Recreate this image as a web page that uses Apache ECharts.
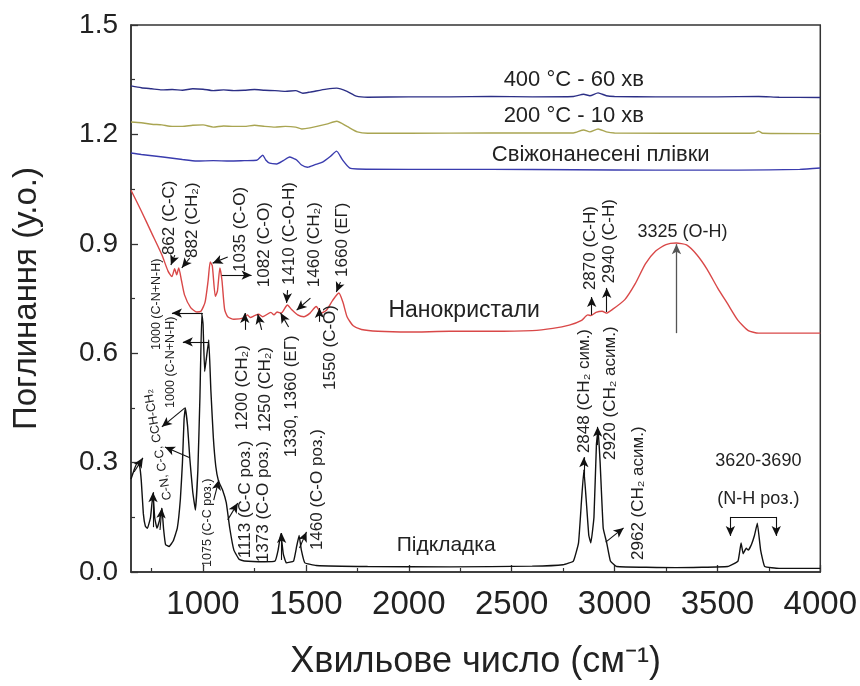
<!DOCTYPE html>
<html><head><meta charset="utf-8">
<script src="https://cdn.jsdelivr.net/npm/echarts@6/dist/echarts.min.js"></script>
<style>html,body{margin:0;padding:0;background:#fff}#c{width:860px;height:686px}</style>
</head><body><div id="c"></div>
<script>
// ---- data ----
const xTickValues = [1000, 1500, 2000, 2500, 3000, 3500, 4000];
const xMinorTickValues = [750, 1250, 1750, 2250, 2750, 3250, 3750];
const yTickLabels = ['0.0', '0.3', '0.6', '0.9', '1.2', '1.5'];

const film400 = [[650,1.333],[700,1.328],[750,1.325],[800,1.322],[850,1.323],[900,1.321],[950,1.325],[1000,1.324],[1050,1.320],[1100,1.322],[1150,1.320],[1200,1.321],[1250,1.323],[1300,1.321],[1350,1.320],[1400,1.318],[1450,1.320],[1485,1.313],[1520,1.316],[1600,1.324],[1650,1.327],[1700,1.318],[1745,1.305],[1800,1.302],[2000,1.303],[2200,1.303],[2400,1.304],[2600,1.303],[2800,1.304],[2850,1.310],[2880,1.306],[2920,1.314],[2960,1.306],[3000,1.304],[3200,1.303],[3500,1.303],[3700,1.304],[3800,1.302],[4000,1.301]];

const film200 = [[650,1.234],[700,1.232],[750,1.228],[800,1.226],[850,1.222],[900,1.222],[950,1.225],[1000,1.226],[1050,1.220],[1100,1.223],[1150,1.222],[1200,1.222],[1250,1.225],[1300,1.222],[1350,1.220],[1400,1.222],[1450,1.220],[1480,1.215],[1520,1.218],[1600,1.228],[1650,1.236],[1700,1.222],[1750,1.207],[1800,1.203],[2000,1.203],[2400,1.204],[2800,1.204],[2850,1.212],[2880,1.207],[2920,1.215],[2960,1.207],[3000,1.204],[3500,1.203],[3680,1.204],[3700,1.209],[3720,1.203],[4000,1.202]];

const filmFresh = [[650,1.149],[700,1.145],[805,1.138],[900,1.131],[970,1.127],[1050,1.128],[1130,1.127],[1200,1.128],[1261,1.129],[1290,1.143],[1305,1.130],[1324,1.121],[1358,1.119],[1390,1.128],[1421,1.138],[1440,1.134],[1455,1.130],[1479,1.116],[1508,1.110],[1545,1.117],[1581,1.124],[1620,1.140],[1649,1.154],[1678,1.130],[1712,1.108],[1750,1.105],[2000,1.104],[2400,1.104],[2800,1.103],[3200,1.102],[3600,1.102],[3900,1.104],[4000,1.108]];

const nanocrystals = [[650,1.047],[700,0.99],[750,0.93],[800,0.87],[830,0.825],[849,0.81],[862,0.832],[872,0.815],[882,0.834],[895,0.80],[910,0.76],[940,0.725],[970,0.713],[990,0.715],[1010,0.74],[1025,0.80],[1035,0.85],[1045,0.84],[1060,0.756],[1070,0.77],[1082,0.834],[1092,0.80],[1105,0.72],[1120,0.70],[1150,0.693],[1200,0.697],[1215,0.705],[1230,0.698],[1250,0.703],[1270,0.707],[1290,0.70],[1330,0.712],[1345,0.705],[1360,0.713],[1380,0.71],[1410,0.732],[1430,0.72],[1460,0.705],[1490,0.70],[1520,0.71],[1550,0.728],[1575,0.71],[1600,0.718],[1630,0.745],[1660,0.765],[1680,0.74],[1700,0.70],[1730,0.675],[1770,0.665],[1850,0.660],[2000,0.658],[2200,0.660],[2400,0.660],[2600,0.662],[2700,0.668],[2780,0.677],[2840,0.69],[2870,0.705],[2885,0.703],[2910,0.712],[2940,0.715],[2960,0.71],[2990,0.72],[3050,0.747],[3100,0.79],[3150,0.845],[3200,0.88],[3250,0.898],[3300,0.902],[3350,0.897],[3400,0.87],[3450,0.83],[3500,0.78],[3550,0.735],[3600,0.69],[3650,0.662],[3700,0.655],[3800,0.655],[4000,0.655]];

const substrate = [[650,0.255],[665,0.28],[680,0.30],[692,0.29],[700,0.25],[710,0.16],[720,0.125],[730,0.12],[745,0.15],[757,0.215],[765,0.15],[776,0.12],[788,0.14],[800,0.175],[808,0.12],[818,0.075],[835,0.07],[855,0.085],[875,0.12],[890,0.2],[900,0.3],[908,0.42],[914,0.45],[925,0.40],[936,0.31],[950,0.22],[963,0.17],[975,0.28],[985,0.48],[994,0.71],[1000,0.68],[1008,0.55],[1015,0.58],[1028,0.636],[1038,0.5],[1050,0.37],[1062,0.29],[1075,0.25],[1095,0.225],[1113,0.19],[1130,0.12],[1150,0.06],[1175,0.035],[1200,0.03],[1300,0.028],[1350,0.03],[1365,0.06],[1378,0.105],[1390,0.05],[1405,0.025],[1440,0.03],[1455,0.07],[1467,0.10],[1478,0.06],[1495,0.025],[1550,0.018],[1800,0.015],[2200,0.014],[2600,0.016],[2750,0.02],[2800,0.03],[2825,0.08],[2840,0.2],[2851,0.28],[2862,0.2],[2875,0.1],[2885,0.08],[2900,0.15],[2912,0.35],[2920,0.39],[2930,0.3],[2945,0.12],[2962,0.08],[2980,0.03],[3010,0.015],[3300,0.012],[3550,0.015],[3600,0.03],[3615,0.08],[3625,0.05],[3640,0.065],[3650,0.06],[3665,0.075],[3680,0.1],[3694,0.134],[3710,0.06],[3730,0.015],[3800,0.01],[4000,0.01]];

// ---- annotations (text, wavenumber, absorbance, font size, rotation deg) ----
const vertLabels = [
 ['862 (C-C)', 834, 0.869, 17, 90],
 ['882 (CH₂)', 950, 0.861, 17, 90],
 ['1035 (C-O)', 1183, 0.823, 17, 90],
 ['1082 (C-O)', 1300, 0.781, 17, 90],
 ['1410 (C-O-H)', 1421, 0.787, 17, 90],
 ['1460 (CH₂)', 1542, 0.781, 17, 90],
 ['1660 (ЕГ)', 1678, 0.809, 17, 90],
 ['1200 (CH₂)', 1193, 0.389, 17, 90],
 ['1250 (CH₂)', 1304, 0.384, 17, 90],
 ['1330, 1360 (ЕГ)', 1430, 0.315, 17, 90],
 ['1550 (C-O)', 1619, 0.499, 17, 90],
 ['1460 (C-O роз.)', 1556, 0.060, 17, 90],
 ['1113 (C-C роз.)', 1207, 0.038, 17, 90],
 ['1373 (C-O роз.)', 1295, 0.027, 17, 90],
 ['1075 (C-C роз.)', 1023, 0.014, 12.5, 90],
 ['1000 (C-N+N-H)', 776, 0.609, 12.5, 90],
 ['1000 (C-N+N-H)', 844, 0.450, 12.5, 90],
 ['C-N, C-C, CCH-CH₂', 829, 0.197, 12.5, 100],
 ['2848 (CH₂ сим.)', 2851, 0.326, 17, 90],
 ['2920 (CH₂ асим.)', 2981, 0.307, 17, 90],
 ['2962 (CH₂ асим.)', 3117, 0.033, 17, 90],
 ['2870 (C-H)', 2880, 0.773, 17, 90],
 ['2940 (C-H)', 2977, 0.792, 17, 90]
];
const horizLabels = [
 ['3325 (O-H)', 3330, 0.932, 18],
 ['3620-3690', 3699, 0.304, 18],
 ['(N-H роз.)', 3699, 0.200, 18],
 ['400 °C - 60 хв', 2802, 1.349, 22],
 ['200 °C - 10 хв', 2802, 1.250, 22],
 ['Свіжонанесені плівки', 2933, 1.143, 22],
 ['Нанокристали', 2269, 0.718, 23],
 ['Підкладка', 2182, 0.074, 21]
];
const arrows = [
 [863,0.869,844,0.842],[936,0.861,897,0.834],[1120,0.864,1047,0.847],[1091,0.814,1236,0.814],
 [1411,0.773,1406,0.738],[1522,0.751,1455,0.718],[1668,0.795,1648,0.768],
 [1203,0.664,1203,0.710],[1285,0.664,1266,0.707],[1416,0.672,1377,0.710],[1566,0.686,1566,0.724],
 [999,0.710,849,0.710],[1028,0.631,902,0.631],[912,0.450,800,0.398],[936,0.313,815,0.343],
 [665,0.274,708,0.313],[757,0.123,757,0.219],[791,0.115,800,0.175],
 [1052,0.197,1077,0.252],[1120,0.143,1169,0.189],[1382,0.033,1382,0.107],[1469,0.066,1503,0.110],
 [2851,0.258,2851,0.315],[2918,0.348,2918,0.398],[2957,0.082,3044,0.121],
 [2889,0.705,2889,0.754],[2962,0.713,2962,0.779],
 [3563,0.151,3563,0.099],[3786,0.151,3786,0.099]
];
const plainLines = [[3563,0.151,3786,0.151]];
const grayArrows = [[3301,0.655,3301,0.899]];

// ---- chart ----
const FONT = '"Liberation Sans", Arial, sans-serif';
const NARROW = '"Liberation Sans Narrow", "Arial Narrow", "Liberation Sans", sans-serif';
const chart = echarts.init(document.getElementById('c'));

const mk = [];
arrows.forEach(a => mk.push([{coord:[a[0],a[1]], symbol:'none'},{coord:[a[2],a[3]], symbol:'arrow'}]));
plainLines.forEach(a => mk.push([{coord:[a[0],a[1]], symbol:'none'},{coord:[a[2],a[3]], symbol:'none'}]));
grayArrows.forEach(a => mk.push([{coord:[a[0],a[1]], symbol:'none', lineStyle:{color:'#555', width:1.3}},{coord:[a[2],a[3]], symbol:'arrow'}]));

function lineSeries(name, data, color) {
  return {name, type:'line', data, showSymbol:false, symbol:'none', smooth:0.2,
    lineStyle:{color, width:1.4}, xAxisIndex:0, yAxisIndex:0, animation:false};
}

const option = {
  animation:false,
  backgroundColor:'#fff',
  grid:{left:131, right:38, top:25, bottom:114, show:true, borderColor:'#333', borderWidth:1.5, backgroundColor:'transparent'},
  xAxis:[{
    type:'value', min:650, max:4000, position:'bottom',
    name:'Хвильове число (см⁻¹)', nameLocation:'middle', nameGap:72,
    nameTextStyle:{fontFamily:NARROW, fontSize:36, color:'#222'},
    axisLine:{show:true, onZero:false, lineStyle:{color:'#333', width:1.5}},
    axisTick:{show:true, inside:true, length:7, lineStyle:{color:'#333', width:1.3}, customValues:xTickValues},
    axisLabel:{show:true, customValues:xTickValues, margin:16, fontFamily:NARROW, fontSize:33, color:'#222',
      formatter:(v)=>String(v)},
    splitLine:{show:false}
  },{
    type:'value', min:650, max:4000, position:'bottom',
    axisLine:{show:false},
    axisTick:{show:true, inside:true, length:4, lineStyle:{color:'#333', width:1.2}, customValues:xMinorTickValues},
    axisLabel:{show:false}, splitLine:{show:false}
  }],
  yAxis:{
    type:'value', min:0, max:1.5, interval:0.3,
    name:'Поглинання (у.о.)', nameLocation:'middle', nameGap:88,
    nameTextStyle:{fontFamily:FONT, fontSize:33, color:'#222'},
    axisLine:{show:true, onZero:false, lineStyle:{color:'#333', width:1.5}},
    axisTick:{show:true, inside:true, length:7, lineStyle:{color:'#333', width:1.3}},
    minorTick:{show:true, splitNumber:2, length:4, lineStyle:{color:'#333', width:1.2}},
    axisLabel:{margin:13, fontFamily:FONT, fontSize:28, color:'#222',
      formatter:(v)=>{const i=Math.round(v/0.3); return yTickLabels[i] ?? v.toFixed(1);}},
    splitLine:{show:false}
  },
  series:[
    lineSeries('400 °C - 60 хв', film400, '#2c2f86'),
    lineSeries('200 °C - 10 хв', film200, '#a9a552'),
    lineSeries('Свіжонанесені плівки', filmFresh, '#3a3cae'),
    lineSeries('Нанокристали', nanocrystals, '#d94848'),
    Object.assign(lineSeries('Підкладка', substrate, '#111'), {
      smooth:0.1,
      markLine:{silent:true, animation:false, symbol:['none','arrow'], symbolSize:[7,10],
        label:{show:false}, lineStyle:{color:'#111', width:1.1, type:'solid'}, emphasis:{disabled:true},
        data:mk}
    })
  ]
};
chart.setOption(option);

const g = [];
vertLabels.forEach(l => {
  const p = chart.convertToPixel({xAxisIndex:0, yAxisIndex:0}, [l[1], l[2]]);
  g.push({type:'text', x:p[0], y:p[1], rotation:l[4]*Math.PI/180, z:20,
    style:{text:l[0], fontSize:l[3], fontFamily:FONT, fill:'#222', align:'left', verticalAlign:'middle'}});
});
horizLabels.forEach(l => {
  const p = chart.convertToPixel({xAxisIndex:0, yAxisIndex:0}, [l[1], l[2]]);
  g.push({type:'text', x:p[0], y:p[1], z:20,
    style:{text:l[0], fontSize:l[3], fontFamily:FONT, fill:'#222', align:'center', verticalAlign:'middle'}});
});
chart.setOption({graphic:g});
</script>
</body></html>
